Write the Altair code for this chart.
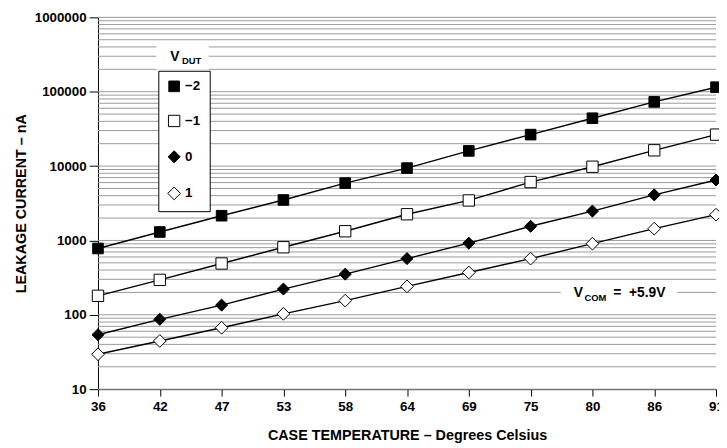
import altair as alt
import pandas as pd

# ---- data ----
temps = ["36", "42", "47", "53", "58", "64", "69", "75", "80", "86", "91"]
series_names = ["−2", "−1", "0", "1"]
vdut_m2 = [780, 1300, 2150, 3500, 5900, 9400, 16000, 26500, 44000, 73000, 115000]
vdut_m1 = [180, 295, 490, 810, 1330, 2250, 3450, 6100, 9800, 16300, 26500]
vdut_0 = [54, 87, 135, 222, 352, 570, 920, 1550, 2480, 4100, 6500]
vdut_p1 = [29.5, 44.5, 67, 103, 155, 241, 371, 570, 905, 1440, 2220]
y_ticks = [10, 100, 1000, 10000, 100000, 1000000]

rows = []
for name, vals in zip(series_names, [vdut_m2, vdut_m1, vdut_0, vdut_p1]):
    for t, v in zip(temps, vals):
        rows.append({"T": t, "I": v, "V": name})
df = pd.DataFrame(rows)

grid_vals = [m * d for d in [10, 100, 1000, 10000, 100000] for m in range(1, 10)] + [1000000]
grid_df = pd.DataFrame({"I": grid_vals})

FONT = "Liberation Sans"
W, H = 625, 376

xenc = alt.X("T:O", sort=temps, scale=alt.Scale(type="point", padding=0),
             axis=alt.Axis(title="CASE TEMPERATURE – Degrees Celsius", labelAngle=0,
                           titlePadding=15, labelPadding=4, tickSize=7,
                           domainColor="black", tickColor="black"))
yscale = alt.Scale(type="log", domain=[10, 1000000])
yaxis = alt.Axis(title="LEAKAGE CURRENT – nA", values=y_ticks, format="d",
                 grid=False, tickSize=9, labelPadding=3, titlePadding=6,
                 domainColor="black", tickColor="black")
yenc = alt.Y("I:Q", scale=yscale, axis=yaxis)

grid = alt.Chart(grid_df).mark_rule(color="#9a9a9a", strokeWidth=1).encode(
    y=yenc
)

white_boxes = pd.DataFrame({"x": [59, 468], "x2": [112, 586], "y": [25, 272], "y2": [53, 292]})
boxes = alt.Chart(white_boxes).mark_rect(color="white").encode(
    x=alt.X("x:Q", scale=None), x2="x2:Q", y=alt.Y("y:Q", scale=None), y2="y2:Q"
)

lines = alt.Chart(df).mark_line(color="black", strokeWidth=1.4).encode(
    x=xenc, y=yenc, detail="V:N"
)

leg = alt.Legend(title=None, orient="none", legendX=61, legendY=54, padding=9,
                 rowPadding=19, strokeColor="black", fillColor="white",
                 labelFont=FONT, labelFontSize=13.5, labelFontWeight="bold",
                 labelColor="black", symbolStrokeColor="black", symbolStrokeWidth=1,
                 labelOffset=4, cornerRadius=0)
points = alt.Chart(df).mark_point(filled=True, strokeWidth=1, opacity=1).encode(
    x=xenc, y=yenc,
    shape=alt.Shape("V:N", sort=series_names,
                    scale=alt.Scale(domain=series_names, range=["square", "square", "diamond", "diamond"]),
                    legend=leg),
    fill=alt.Fill("V:N", sort=series_names,
                  scale=alt.Scale(domain=series_names, range=["black", "white", "black", "white"]),
                  legend=leg),
    stroke=alt.Stroke("V:N", sort=series_names,
                      scale=alt.Scale(domain=series_names, range=["black", "black", "black", "black"]),
                      legend=leg),
    size=alt.Size("V:N", sort=series_names,
                  scale=alt.Scale(domain=series_names, range=[115, 165, 55, 130]),
                  legend=leg),
)

big_txt = pd.DataFrame({"t": ["V", "V", "=", "+5.9V"], "x": [73, 481, 521, 537], "y": [44, 283, 283, 283]})
small_txt = pd.DataFrame({"t": ["DUT", "COM"], "x": [85, 492], "y": [47, 287]})

texts_big = alt.Chart(big_txt).mark_text(align="left", baseline="alphabetic", font=FONT,
                                         fontSize=14, fontWeight="bold", color="black").encode(
    x=alt.X("x:Q", scale=None), y=alt.Y("y:Q", scale=None), text="t:N"
)
texts_small = alt.Chart(small_txt).mark_text(align="left", baseline="alphabetic", font=FONT,
                                             fontSize=9.5, fontWeight="bold", color="black").encode(
    x=alt.X("x:Q", scale=None), y=alt.Y("y:Q", scale=None), text="t:N"
)

chart = alt.layer(grid, boxes, lines, points, texts_big, texts_small).properties(
    width=W, height=H,
    autosize=alt.AutoSizeParams(type="none"),
    padding={"left": 91, "top": 7, "right": 3, "bottom": 55},
    background="white",
).configure_view(stroke=None).configure_axis(
    labelFont=FONT, labelFontSize=13.5, labelFontWeight="bold", labelColor="black",
    titleFont=FONT, titleFontSize=14.5, titleFontWeight="bold", titleColor="black",
)

chart.save("out.html", embed_options={"renderer": "svg", "actions": False})
